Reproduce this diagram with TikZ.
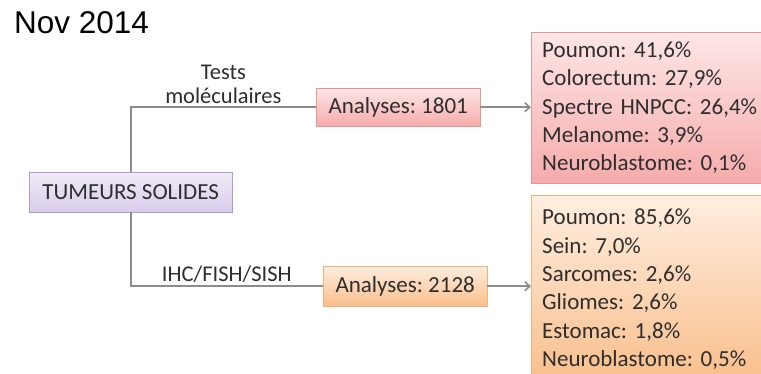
\documentclass[tikz,border=0pt]{standalone}
\usepackage{fontspec}
\setmainfont{Carlito}
\newfontfamily\titlefont{Liberation Sans}
\frenchspacing
\usetikzlibrary{arrows.meta,positioning,calc}
\definecolor{ink}{HTML}{2E2E2E}
\definecolor{wire}{HTML}{8C8C8C}
\definecolor{lilacline}{HTML}{AF9CCF}
\definecolor{lilactop}{HTML}{F0EBF7}
\definecolor{lilacbot}{HTML}{D8CCEA}
\definecolor{roseline}{HTML}{E59797}
\definecolor{rosetop}{HTML}{FDE6E6}
\definecolor{rosebot}{HTML}{F6ABAB}
\definecolor{peachline}{HTML}{F2B07A}
\definecolor{peachtop}{HTML}{FEEEDF}
\definecolor{peachbot}{HTML}{F9BE8B}

\begin{document}
\begin{tikzpicture}[x=1pt, y=-1pt,
    box/.style={rectangle, anchor=north west, inner sep=0pt, text=ink, font=\fontsize{23}{28.3}\selectfont},
    lilacbox/.style={box, draw=lilacline, top color=lilactop, bottom color=lilacbot},
    rosebox/.style={box, draw=roseline, top color=rosetop, bottom color=rosebot},
    peachbox/.style={box, draw=peachline, top color=peachtop, bottom color=peachbot},
    list/.style={text width=218, align=left, inner xsep=11pt},
    link/.style={draw=wire, line width=1.6pt},
    tip/.style={link, -{Straight Barb[length=5pt, width=9pt]}},
    lbl/.style={text=ink, font=\fontsize{22.5}{24}\selectfont, align=center, inner sep=3pt}]
  \clip (0,0) rectangle (761,373);
  \useasboundingbox (0,0) rectangle (761,373);
  \fill[white] (0,0) rectangle (761,373);
  \node[anchor=base west, inner sep=0pt, font=\titlefont\fontsize{31.5}{34}\selectfont] (date) at (14,33) {Nov 2014};
  \node[lilacbox, minimum width=203, minimum height=40] (ts) at (29,172) {TUMEURS SOLIDES};
  \node[rosebox, minimum width=164, minimum height=38] (an1) at (316,88) {Analyses: 1801};
  \node[peachbox, minimum width=164, minimum height=40] (an2) at (323,266) {Analyses: 2128};
  \node[rosebox, list, minimum width=240, minimum height=151] (res1) at (531,32)
    {Poumon: 41,6\%\\Colorectum: 27,9\%\\Spectre HNPCC: 26,4\%\\Melanome: 3,9\%\\Neuroblastome: 0,1\%};
  \node[peachbox, list, minimum width=240, minimum height=188] (res2) at (531,195)
    {Poumon: 85,6\%\\Sein: 7,0\%\\Sarcomes: 2,6\%\\Gliomes: 2,6\%\\Estomac: 1,8\%\\Neuroblastome: 0,5\%};
  \draw[link] (ts.north) |- node[pos=0.75, above, lbl] {Tests\\moléculaires} (an1.west);
  \draw[link] (ts.south) |- node[pos=0.75, above, lbl] {IHC/FISH/SISH} (an2.west);
  \draw[tip] (an1.east) -- (an1.east -| res1.west);
  \draw[tip] (an2.east) -- (an2.east -| res2.west);
\end{tikzpicture}
\end{document}
